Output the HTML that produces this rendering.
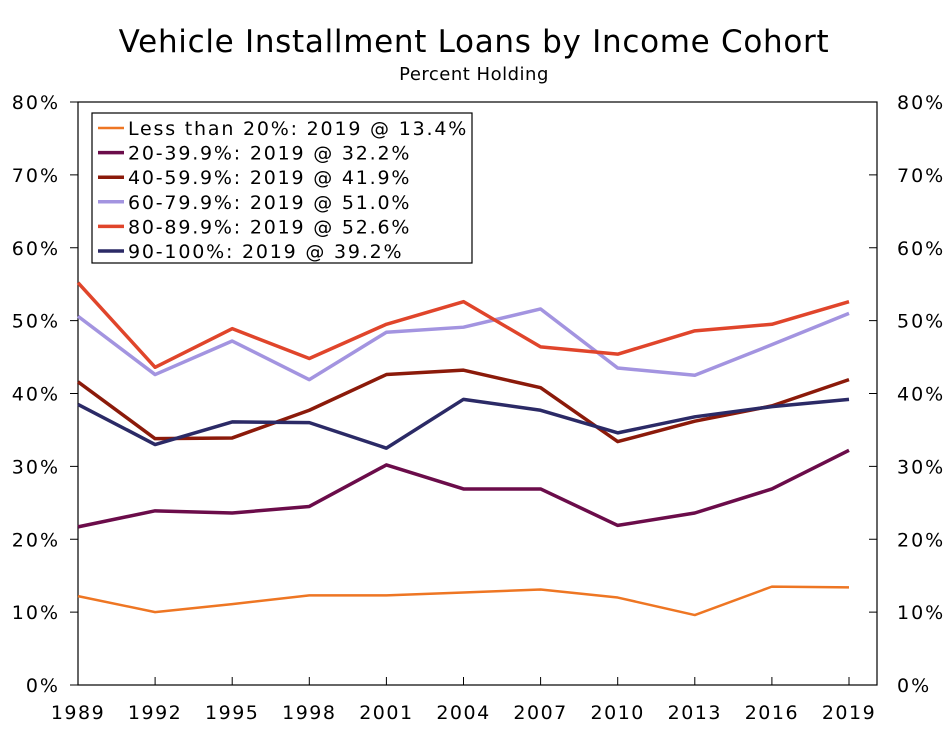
<!DOCTYPE html>
<html><head><meta charset="utf-8"><style>
body{margin:0;background:#fff;}
svg text{font-family:"DejaVu Sans","Liberation Sans",sans-serif;fill:#000;}
</style></head><body>
<svg width="947" height="727" xmlns="http://www.w3.org/2000/svg">
<text x="474" y="52" text-anchor="middle" font-size="31" letter-spacing="0.7">Vehicle Installment Loans by Income Cohort</text>
<text x="474" y="80" text-anchor="middle" font-size="18" letter-spacing="0.5">Percent Holding</text>
<rect x="78" y="102" width="799" height="583" fill="none" stroke="#000" stroke-width="1.2"/>
<g id="axes"></g>
<g id="series"></g>
<g id="legend"></g>
</svg>
<script>
const years=[1989,1992,1995,1998,2001,2004,2007,2010,2013,2016,2019];
const yTicks=[0,10,20,30,40,50,60,70,80];
const seriesNames=["Less than 20%: 2019 @ 13.4%","20-39.9%: 2019 @ 32.2%","40-59.9%: 2019 @ 41.9%","60-79.9%: 2019 @ 51.0%","80-89.9%: 2019 @ 52.6%","90-100%: 2019 @ 39.2%"];
const sLt20=[12.2,10.0,11.1,12.3,12.3,12.7,13.1,12.0,9.6,13.5,13.4];
const s20=[21.7,23.9,23.6,24.5,30.2,26.9,26.9,21.9,23.6,26.9,32.2];
const s40=[41.6,33.8,33.9,37.7,42.6,43.2,40.8,33.4,36.2,38.3,41.9];
const s60=[50.6,42.6,47.2,41.9,48.4,49.1,51.6,43.5,42.5,46.7,51.0];
const s80=[55.2,43.6,48.9,44.8,49.5,52.6,46.4,45.4,48.6,49.5,52.6];
const s90=[38.5,33.0,36.1,36.0,32.5,39.2,37.7,34.6,36.8,38.2,39.2];
const allSeries=[sLt20,s20,s40,s60,s80,s90];
const colors=["#ee7623","#6b0c4a","#8b1a0a","#a394e0","#e0452b","#2b2a66"];
const widths=[2.5,3.5,3.5,3.5,3.5,3.5];
const NS="http://www.w3.org/2000/svg";
const X=y=>78+(y-1989)/30*771;
const Y=v=>685-v/80*583;
function mk(tag,attrs,parent){const e=document.createElementNS(NS,tag);for(const k in attrs)e.setAttribute(k,attrs[k]);parent.appendChild(e);return e;}
const ax=document.getElementById('axes');
yTicks.forEach(t=>{
 const y=Y(t);
 let l=mk('line',{x1:78,x2:70,y1:y,y2:y,stroke:'#000'},ax);
 
 
 let r=mk('line',{x1:877,x2:869,y1:y,y2:y,stroke:'#000'},ax);
 
 
 let a=mk('text',{x:60,y:y+7,'text-anchor':'end','font-size':19,'letter-spacing':2},ax);a.textContent=t+'%';
 
 
 let b=mk('text',{x:897,y:y+7,'text-anchor':'start','font-size':19,'letter-spacing':2},ax);b.textContent=t+'%';
 
 
});
years.forEach(yr=>{
 const x=X(yr);
 let l=mk('line',{x1:x,x2:x,y1:685,y2:677,stroke:'#000'},ax);
 
 
 let t=mk('text',{x:x,y:719,'text-anchor':'middle','font-size':19,'letter-spacing':1.5},ax);t.textContent=yr;
 
 
});
const sg=document.getElementById('series');
allSeries.forEach((s,i)=>{
 const p=mk('polyline',{points:s.map((v,j)=>X(years[j])+','+Y(v)).join(' '),fill:'none',stroke:colors[i],'stroke-width':widths[i],'stroke-linejoin':'round'},sg);
 
 
});
const lg=document.getElementById('legend');
const box=mk('rect',{x:92,y:113,width:380,height:150,fill:'#fff',stroke:'#000','stroke-width':1.2},lg);


seriesNames.forEach((n,i)=>{
 const y=128+i*24.6;
 const l=mk('line',{x1:98,x2:124,y1:y,y2:y,stroke:colors[i],'stroke-width':widths[i]},lg);
 
 
 const t=mk('text',{x:128,y:y+7,'font-size':19,'letter-spacing':1.8},lg);t.textContent=n;
 
 
});
</script>
</body></html>
